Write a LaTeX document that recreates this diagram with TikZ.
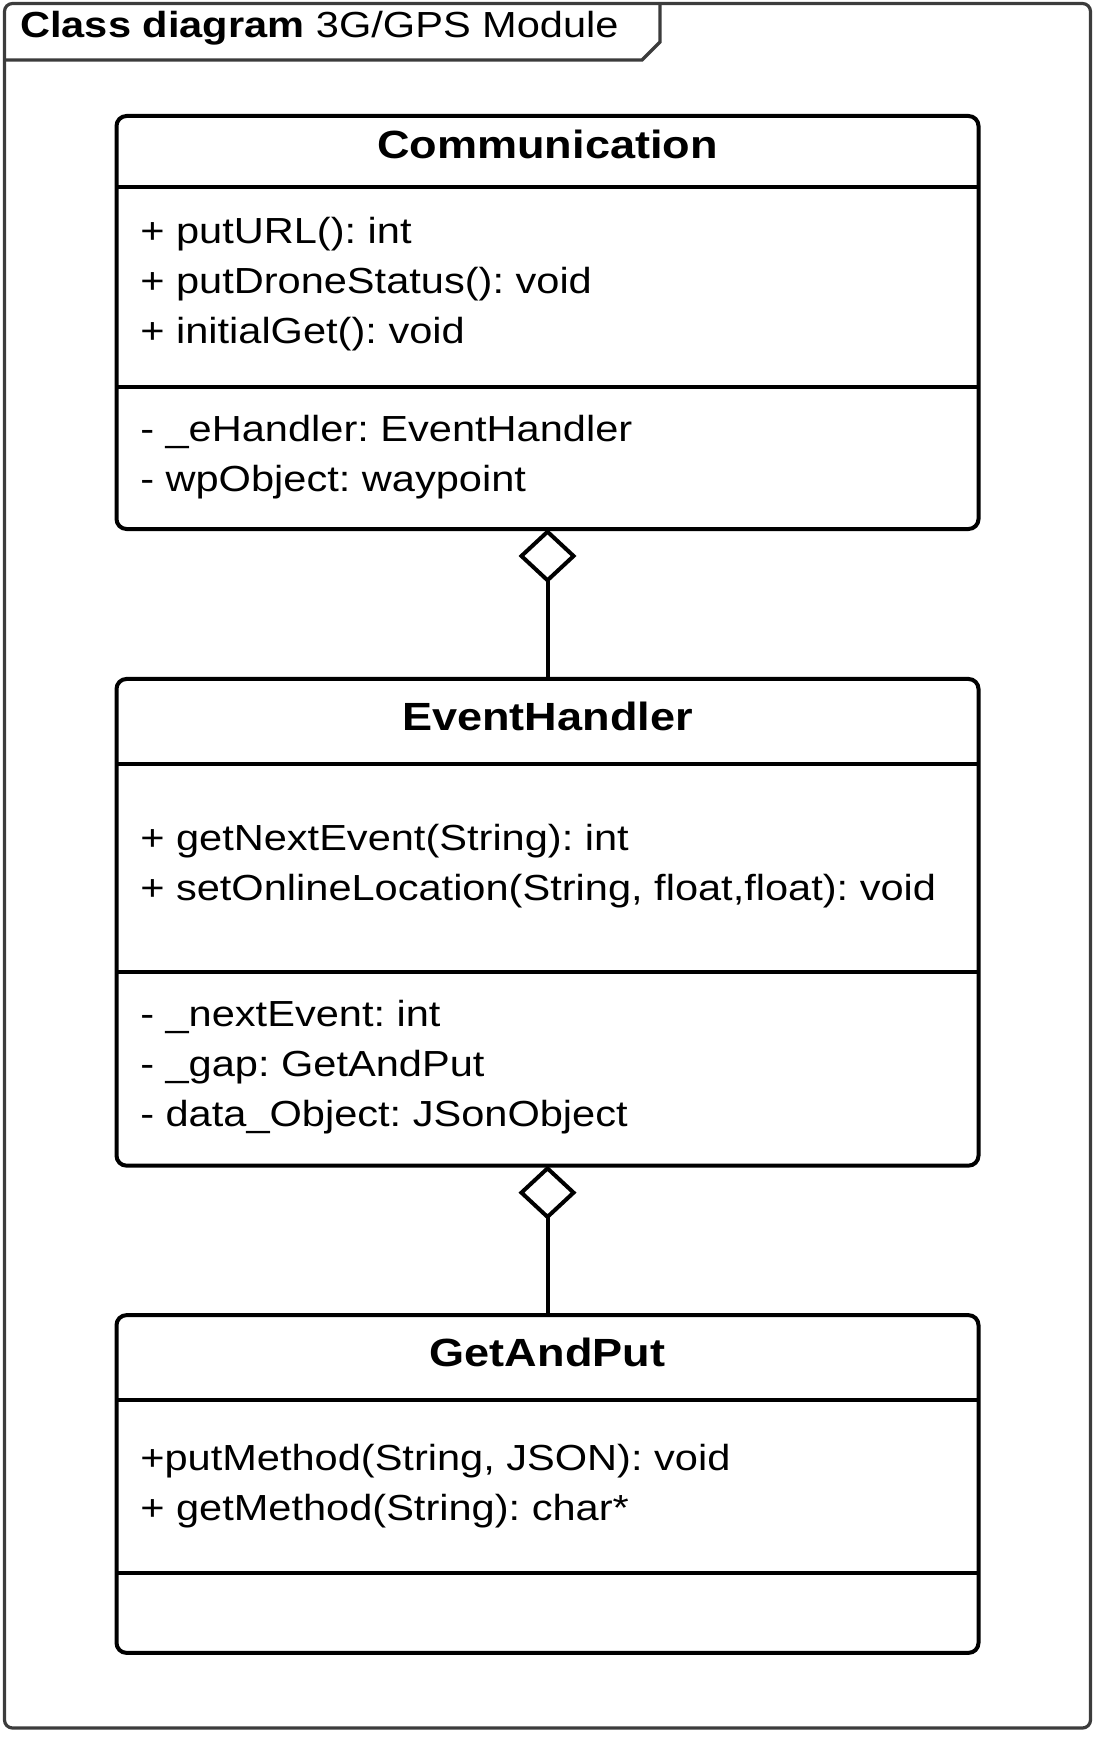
\documentclass[tikz,border=0pt]{standalone}
\usepackage{fontspec}
\setmainfont{Liberation Sans}[FakeStretch=1.146]
\frenchspacing
\usetikzlibrary{positioning,arrows.meta}
\definecolor{framegray}{HTML}{3C3C3C}
\tikzset{
  classbox/.style={draw, line width=3pt, rounded corners=7.5pt, minimum width=646.5pt, inner sep=0pt, outer sep=0pt},
  rule/.style={line width=3pt},
  classname/.style={anchor=base, inner sep=0pt, font=\fontsize{29.5pt}{35pt}\selectfont\bfseries},
  memb/.style={anchor=base west, inner sep=0pt, font=\fontsize{27.2pt}{37.5pt}\selectfont},
  aggr/.style={line width=3pt, -{Diamond[open,length=40.5pt,width=43.5pt]}},
}

\begin{document}
\begin{tikzpicture}[x=0.75pt,y=-0.75pt]
        \useasboundingbox (0,0) rectangle (1104,1740);
        % frame and its tab
        \draw[framegray, line width=2.4pt, rounded corners=6pt] (4.5,3.5) rectangle (1090.5,1728);
        \draw[framegray, line width=2.4pt] (4.5,60) -- (642,60) -- (660,42) -- (660,3.5);
        \node[memb] (frametitle) at (20,38) {\textbf{Class diagram} 3G/GPS Module};

        % classes
        \node[classbox, minimum height=309.75pt] (comm) at (547.5,322.5) {};
        \node[classbox, minimum height=365pt] (evh) at (547.5,922.3) {};
        \node[classbox, minimum height=253.3pt] (gap) at (547.5,1484) {};

        \draw[rule] (comm.west |- 0,187) -- (comm.east |- 0,187);
        \draw[rule] (comm.west |- 0,387) -- (comm.east |- 0,387);
        \draw[rule] (evh.west |- 0,764) -- (evh.east |- 0,764);
        \draw[rule] (evh.west |- 0,971.5) -- (evh.east |- 0,971.5);
        \draw[rule] (gap.west |- 0,1400) -- (gap.east |- 0,1400);
        \draw[rule] (gap.west |- 0,1572.5) -- (gap.east |- 0,1572.5);

        \node[classname] (comm-name) at (547.5,159) {Communication};
        \node[memb] (comm-op1) at (140,244) {+ putURL(): int};
        \node[memb] (comm-op2) at (140,294) {+ putDroneStatus(): void};
        \node[memb] (comm-op3) at (140,344) {+ initialGet(): void};
        \node[memb] (comm-at1) at (140,441) {- \_eHandler: EventHandler};
        \node[memb] (comm-at2) at (140,491) {- wpObject: waypoint};

        \node[classname] (evh-name) at (547.5,730) {EventHandler};
        \node[memb] (evh-op1) at (140,850) {+ getNextEvent(String): int};
        \node[memb] (evh-op2) at (140,900) {+ setOnlineLocation(String, float,float): void};
        \node[memb] (evh-at1) at (140,1026) {- \_nextEvent: int};
        \node[memb] (evh-at2) at (140,1076) {- \_gap: GetAndPut};
        \node[memb] (evh-at3) at (140,1126) {- data\_Object: JSonObject};

        \node[classname] (gap-name) at (547.5,1366) {GetAndPut};
        \node[memb] (gap-op1) at (140,1470) {+putMethod(String, JSON): void};
        \node[memb] (gap-op2) at (140,1520) {+ getMethod(String): char*};

        % aggregations
        \draw[aggr] (evh.north) -- (comm.south);
        \draw[aggr] (gap.north) -- (evh.south);
\end{tikzpicture}
\end{document}
